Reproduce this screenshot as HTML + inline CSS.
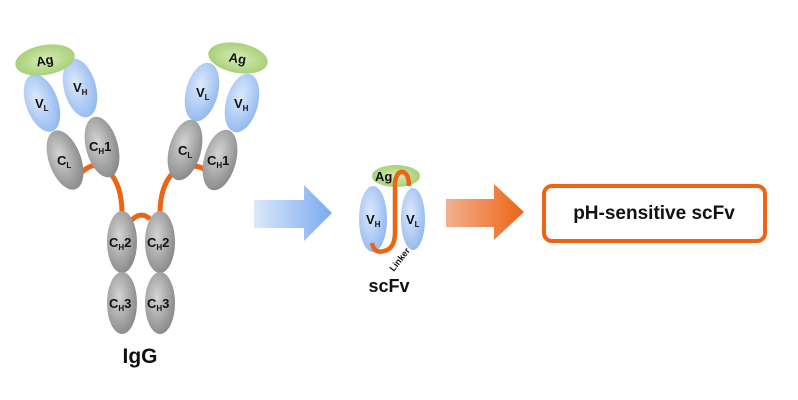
<!DOCTYPE html>
<html><head><style>
body{margin:0;background:#fff}
svg{display:block}
text{font-family:"Liberation Sans",Arial,sans-serif;font-weight:bold;fill:#111}
</style></head><body>
<svg width="798" height="400" viewBox="0 0 798 400" xmlns="http://www.w3.org/2000/svg">
<defs>
<radialGradient id="g" cx="0.4" cy="0.4" r="0.7"><stop offset="0" stop-color="#d4d4d4"/><stop offset="0.6" stop-color="#a2a2a2"/><stop offset="1" stop-color="#828282"/></radialGradient>
<radialGradient id="b" cx="0.4" cy="0.4" r="0.7"><stop offset="0" stop-color="#dce9fb"/><stop offset="1" stop-color="#8cb4ef"/></radialGradient>
<radialGradient id="gr" cx="0.5" cy="0.5" r="0.6"><stop offset="0" stop-color="#d7ebb7"/><stop offset="1" stop-color="#9fcb6c"/></radialGradient>
<linearGradient id="a1" x1="0" x2="1"><stop offset="0" stop-color="#dbe8fa"/><stop offset="1" stop-color="#7aaaf0"/></linearGradient>
<linearGradient id="a2" x1="0" x2="1"><stop offset="0" stop-color="#f2b08e"/><stop offset="1" stop-color="#ec6414"/></linearGradient>
</defs>
<g fill="none" stroke="#ec6414" stroke-width="5">
<path d="M80 174 Q95 158 109 172"/>
<path d="M109 172 Q122 185 122 214"/>
<path d="M130 222 Q140 210 150 219"/>
<path d="M160 214 Q160 185 174 172"/>
<path d="M188 167 Q200 164 207 172"/>
</g>
<!-- left arm -->
<ellipse cx="42" cy="103" rx="16" ry="30" fill="url(#b)" transform="rotate(-20 42 103)"/>
<ellipse cx="80" cy="88" rx="16" ry="30" fill="url(#b)" transform="rotate(-15 80 88)"/>
<ellipse cx="45" cy="60" rx="30" ry="15" fill="url(#gr)" transform="rotate(-10 45 60)"/>
<ellipse cx="65" cy="160" rx="16" ry="31" fill="url(#g)" transform="rotate(-20 65 160)"/>
<ellipse cx="102" cy="147" rx="16" ry="31" fill="url(#g)" transform="rotate(-15 102 147)"/>
<!-- right arm -->
<ellipse cx="202" cy="92" rx="16" ry="30" fill="url(#b)" transform="rotate(15 202 92)"/>
<ellipse cx="242" cy="103" rx="16" ry="30" fill="url(#b)" transform="rotate(15 242 103)"/>
<ellipse cx="238" cy="58" rx="30" ry="15" fill="url(#gr)" transform="rotate(10 238 58)"/>
<ellipse cx="185" cy="150" rx="16" ry="31" fill="url(#g)" transform="rotate(15 185 150)"/>
<ellipse cx="220" cy="160" rx="16" ry="31" fill="url(#g)" transform="rotate(15 220 160)"/>
<!-- stem -->
<ellipse cx="122" cy="242" rx="15" ry="31" fill="url(#g)"/>
<ellipse cx="160" cy="242" rx="15" ry="31" fill="url(#g)"/>
<ellipse cx="122" cy="303" rx="15" ry="31" fill="url(#g)"/>
<ellipse cx="160" cy="303" rx="15" ry="31" fill="url(#g)"/>
<g font-size="13">
<text x="36" y="65" transform="rotate(-10 45 60)">Ag</text>
<text x="229" y="63" transform="rotate(10 238 58)">Ag</text>
<text x="35" y="108">V<tspan font-size="8" dy="3">L</tspan></text>
<text x="73" y="92">V<tspan font-size="8" dy="3">H</tspan></text>
<text x="196" y="97">V<tspan font-size="8" dy="3">L</tspan></text>
<text x="234" y="108">V<tspan font-size="8" dy="3">H</tspan></text>
<text x="57" y="165">C<tspan font-size="8" dy="3">L</tspan></text>
<text x="89" y="151">C<tspan font-size="8" dy="3">H</tspan><tspan dy="-3">1</tspan></text>
<text x="178" y="155">C<tspan font-size="8" dy="3">L</tspan></text>
<text x="207" y="165">C<tspan font-size="8" dy="3">H</tspan><tspan dy="-3">1</tspan></text>
<text x="109" y="247">C<tspan font-size="8" dy="3">H</tspan><tspan dy="-3">2</tspan></text>
<text x="147" y="247">C<tspan font-size="8" dy="3">H</tspan><tspan dy="-3">2</tspan></text>
<text x="109" y="308">C<tspan font-size="8" dy="3">H</tspan><tspan dy="-3">3</tspan></text>
<text x="147" y="308">C<tspan font-size="8" dy="3">H</tspan><tspan dy="-3">3</tspan></text>
</g>
<text x="140" y="363" font-size="21" text-anchor="middle">IgG</text>
<!-- arrows -->
<polygon points="254,200 304,200 304,185 332,213 304,241 304,228 254,228" fill="url(#a1)"/>
<polygon points="446,199 494,199 494,184 524,212 494,240 494,227 446,227" fill="url(#a2)"/>
<!-- scFv -->
<ellipse cx="396" cy="176" rx="24" ry="11" fill="url(#gr)"/>
<ellipse cx="373" cy="219" rx="14" ry="33" fill="url(#b)"/>
<ellipse cx="413" cy="219" rx="12" ry="31" fill="url(#b)"/>
<text x="375" y="181" font-size="13">Ag</text>
<path d="M372 243 Q374 254 384 251 Q395 249 395 232 L395 182 Q397 171 403 172 Q409 174 409 186" fill="none" stroke="#ec6414" stroke-width="4.5"/>
<text x="366" y="224" font-size="13">V<tspan font-size="8" dy="3">H</tspan></text>
<text x="406" y="224" font-size="13">V<tspan font-size="8" dy="3">L</tspan></text>
<text x="384" y="268" font-size="9" transform="rotate(-52 393 260)">Linker</text>
<text x="389" y="292" font-size="18" text-anchor="middle">scFv</text>
<!-- box -->
<rect x="544" y="186" width="221" height="55" rx="8" fill="#fff" stroke="#ec6414" stroke-width="4"/>
<text x="654" y="219" font-size="19" text-anchor="middle">pH-sensitive scFv</text>
</svg>
</body></html>
